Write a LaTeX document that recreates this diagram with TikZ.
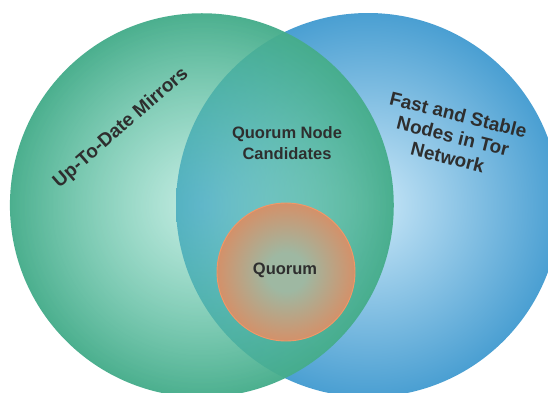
\documentclass[tikz,border=0pt]{standalone}
\usepackage{fontspec}
\setmainfont{Liberation Sans}
\usetikzlibrary{fadings}
\definecolor{vgreen}{HTML}{46AD8B}
\definecolor{vgreenIn}{HTML}{68CEB5}
\definecolor{vblue}{HTML}{4A9FD2}
\definecolor{vblueIn}{HTML}{CBE8F8}
\definecolor{vorange}{HTML}{E2865A}
\definecolor{vorangeIn}{HTML}{9EB8A2}
\definecolor{vorangeline}{HTML}{F29868}
\definecolor{vtext}{HTML}{2E2E2E}
\pgfdeclareradialshading{orangeshade}{\pgfpointorigin}{color(0bp)=(vorangeIn); color(7bp)=(vorangeIn); color(30bp)=(vorange); color(50bp)=(vorange)}
\tikzfading[name=vennfade, inner color=transparent!61, outer color=transparent!3]
\begin{document}
\begin{tikzpicture}[x=1pt,y=-1pt,
  lbl/.style={font=\bfseries\fontsize{19}{22}\selectfont, text=vtext, align=center, inner sep=0pt},
  lblsmall/.style={font=\bfseries\fontsize{16.5}{21}\selectfont, text=vtext, align=center, inner sep=0pt}]
\useasboundingbox (0,0) rectangle (548,392);
\fill[white] (0,0) rectangle (548,392);
\shade[inner color=vblueIn, outer color=vblue] (368,205) circle[radius=192pt];
\shade[inner color=vgreenIn, outer color=vgreen, path fading=vennfade] (202,205) circle[radius=192pt];
\shade[shading=orangeshade] (286,272) circle[radius=69pt];
\draw[vorangeline, line width=0.9pt] (286,272) circle[radius=69pt];
\node[lbl, rotate=41] (mirrors) at (121,128) {Up-To-Date Mirrors};
\node[lbl, rotate=-14] (fast) at (453,136) {Fast and Stable\\Nodes in Tor\\Network};
\node[lblsmall] (cand) at (287,143) {Quorum Node\\Candidates};
\node[lblsmall] (quorum) at (285,270) {Quorum};
\end{tikzpicture}
\end{document}
